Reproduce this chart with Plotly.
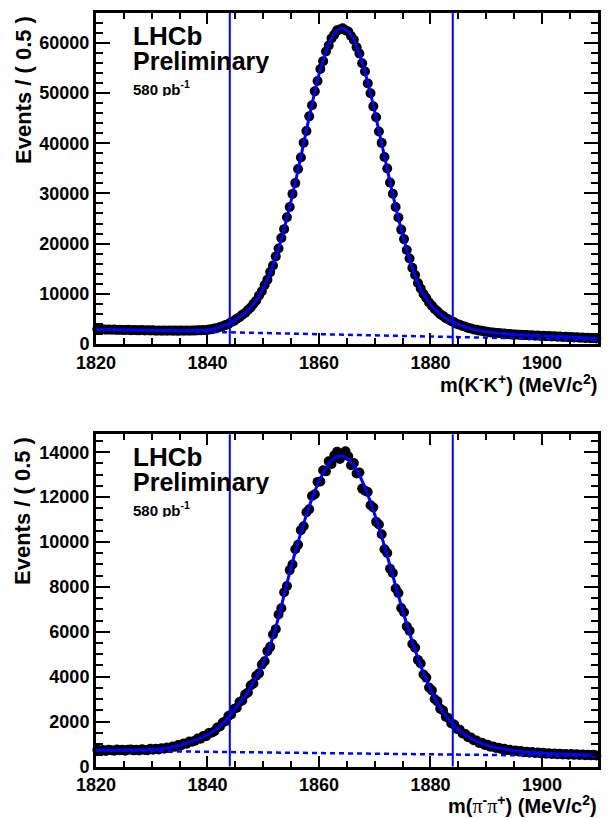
import numpy as np
import plotly.graph_objects as go

# ---------------- binning / ranges ----------------
BIN_LOW = 1820.0
BIN_WIDTH = 0.5
N_BINS = 180
MASS_RANGE = [1820, 1910]
FIT_MASS = list(range(1820, 1911))          # fit curve sampled every 1 MeV
SIGNAL_WINDOW = [1844, 1884]

X_TICKS = [1820, 1840, 1860, 1880, 1900]
KK_Y_TICKS = [0, 10000, 20000, 30000, 40000, 50000, 60000]
PP_Y_TICKS = [0, 2000, 4000, 6000, 8000, 10000, 12000, 14000]
KK_Y_MAX = 66000
PP_Y_MAX = 14800

# ---------------- D0 -> K- K+ ----------------
KK_COUNTS = [
    2960, 2890, 2930, 2860, 2890, 2840, 2870, 2810, 2850, 2790,
    2780, 2820, 2760, 2790, 2740, 2720, 2770, 2700, 2740, 2680,
    2720, 2660, 2700, 2650, 2690, 2640, 2680, 2630, 2670, 2620,
    2680, 2630, 2690, 2650, 2700, 2670, 2740, 2720, 2780, 2760,
    2870, 2930, 3090, 3180, 3400, 3530, 3800, 4000, 4350, 4600,
    5030, 5330, 5820, 6190, 6790, 7270, 8030, 8680, 9650, 10520,
    11750, 12820, 14320, 15650, 17450, 19030, 21100, 22880, 25250, 27280,
    29900, 32050, 34850, 37150, 40080, 42420, 45350, 47570, 50330, 52380,
    54780, 56350, 58260, 59460, 60880, 61640, 62480, 62650, 62900, 62520,
    62260, 61370, 60590, 59120, 57880, 55930, 54290, 51920, 49970, 47340,
    45170, 42340, 40060, 37250, 34950, 32150, 29920, 27290, 25210, 22790,
    20900, 18710, 17040, 15170, 13750, 12160, 11060, 9950, 9150, 8260,
    7640, 6960, 6500, 5950, 5600, 5150, 4890, 4520, 4310, 3990,
    3840, 3570, 3440, 3210, 3110, 2910, 2840, 2670, 2620, 2470,
    2440, 2310, 2300, 2180, 2180, 2080, 2080, 1990, 1990, 1910,
    1910, 1840, 1850, 1770, 1790, 1710, 1730, 1660, 1680, 1610,
    1630, 1560, 1580, 1510, 1530, 1460, 1480, 1410, 1430, 1360,
    1380, 1310, 1330, 1260, 1280, 1210, 1230, 1160, 1180, 1120,
]
KK_FIT = [
    2930, 2905, 2880, 2855, 2830, 2805, 2785, 2765, 2745, 2725,
    2705, 2690, 2675, 2665, 2655, 2650, 2655, 2670, 2700, 2740,
    2800, 3000, 3270, 3650, 4150, 4800, 5550, 6450, 7600, 9100,
    11070, 13500, 16480, 20000, 24000, 28540, 33420, 38600, 43900, 49000,
    53700, 57400, 60300, 62200, 62900, 62500, 61100, 58600, 55200, 51000,
    46300, 41200, 36100, 31000, 26200, 21800, 17800, 14400, 11500, 9500,
    7900, 6700, 5750, 5000, 4400, 3900, 3500, 3150, 2870, 2640,
    2450, 2300, 2180, 2080, 1990, 1910, 1840, 1780, 1720, 1670,
    1620, 1570, 1520, 1470, 1420, 1370, 1320, 1270, 1220, 1170, 1130,
]
KK_BKG_ENDS = [2880, 800]

# ---------------- D0 -> pi- pi+ ----------------
PP_COUNTS = [
    745, 706, 731, 690, 746, 725, 707, 757, 723, 746,
    705, 744, 762, 719, 747, 715, 768, 740, 729, 786,
    750, 793, 762, 815, 790, 846, 820, 890, 880, 955,
    940, 1030, 1010, 1115, 1100, 1150, 1250, 1235, 1355, 1350,
    1490, 1500, 1570, 1740, 1780, 1960, 2020, 2250, 2320, 2560,
    2620, 2870, 2940, 3210, 3300, 3610, 3700, 4040, 4150, 4540,
    4690, 5140, 5330, 5880, 6120, 6770, 7050, 7760, 8040, 8750,
    9000, 9680, 9880, 10530, 10700, 11330, 11460, 12050, 12130, 12680,
    12700, 13200, 13150, 13600, 13480, 13860, 14020, 13700, 13950, 14040,
    13820, 13420, 13520, 13050, 13100, 12380, 12290, 12230, 11640, 11540,
    10900, 10780, 10350, 9680, 9510, 8810, 8620, 7930, 7730, 7060,
    6870, 6240, 6050, 5460, 5290, 4750, 4590, 4100, 3960, 3520,
    3390, 3010, 2900, 2580, 2500, 2220, 2150, 1920, 1870, 1670,
    1640, 1470, 1450, 1300, 1290, 1170, 1160, 1050, 1055, 960,
    965, 885, 895, 825, 840, 775, 790, 730, 750, 696,
    716, 665, 688, 640, 662, 618, 643, 600, 624, 585,
    608, 571, 595, 558, 582, 548, 571, 537, 562, 528,
    553, 519, 544, 511, 536, 503, 528, 496, 521, 488,
]
PP_FIT = [
    720, 722, 724, 726, 728, 731, 734, 738, 743, 750,
    760, 775, 795, 830, 880, 945, 1020, 1100, 1190, 1290,
    1410, 1560, 1740, 1990, 2280, 2580, 2900, 3250, 3650, 4080,
    4600, 5220, 5980, 6900, 7900, 8880, 9780, 10620, 11400, 12100,
    12700, 13190, 13550, 13770, 13820, 13740, 13490, 13100, 12580, 11950,
    11230, 10440, 9600, 8720, 7830, 6960, 6140, 5370, 4660, 4020,
    3450, 2950, 2530, 2180, 1890, 1650, 1450, 1290, 1160, 1050,
    960, 890, 830, 780, 740, 705, 675, 650, 630, 612,
    596, 582, 570, 559, 549, 540, 531, 523, 515, 508, 500,
]
PP_BKG_ENDS = [710, 460]

PANEL_TEXT = ["LHCb", "Preliminary", "580 pb<sup>-1</sup>"]
Y_TITLE = "Events / ( 0.5 )"
KK_X_TITLE = "m(K<sup>-</sup>K<sup>+</sup>) (MeV/c<sup>2</sup>)"
PP_X_TITLE = ("m(<span style='font-family:Liberation Serif;font-weight:normal'>&#960;</span><sup>-</sup>"
              "<span style='font-family:Liberation Serif;font-weight:normal'>&#960;</span><sup>+</sup>) (MeV/c<sup>2</sup>)")

# ---------------- figure ----------------
W, H = 612, 818
BLUE = "#0000ff"
FONT = "Liberation Sans"

centers = BIN_LOW + BIN_WIDTH * (np.arange(N_BINS) + 0.5)

def px_x(p):
    return p / W

def px_y(p):
    return 1 - p / H

fig = go.Figure()

panels = [
    dict(counts=KK_COUNTS, fit=KK_FIT, bkg=KK_BKG_ENDS, xa="x", ya="y"),
    dict(counts=PP_COUNTS, fit=PP_FIT, bkg=PP_BKG_ENDS, xa="x2", ya="y2"),
]
for p in panels:
    fig.add_trace(go.Scatter(x=centers, y=p["counts"], mode="markers",
                             marker=dict(color="black", size=10, line=dict(width=0)),
                             cliponaxis=False, xaxis=p["xa"], yaxis=p["ya"], showlegend=False))
    fig.add_trace(go.Scatter(x=FIT_MASS, y=p["fit"], mode="lines",
                             line=dict(color=BLUE, width=3, shape="spline"),
                             xaxis=p["xa"], yaxis=p["ya"], showlegend=False))
    fig.add_trace(go.Scatter(x=MASS_RANGE, y=p["bkg"], mode="lines",
                             line=dict(color=BLUE, width=2.5, dash="5px,4px"),
                             xaxis=p["xa"], yaxis=p["ya"], showlegend=False))

tickfont = dict(family=FONT, size=18, color="black", weight="bold")

def xaxis_cfg():
    return dict(range=MASS_RANGE, tickmode="array", tickvals=X_TICKS,
                ticktext=[str(v) for v in X_TICKS], automargin=False,
                ticks="inside", ticklen=11, tickwidth=2, tickcolor="black",
                showline=True, linecolor="black", linewidth=3, mirror="ticks",
                showgrid=False, zeroline=False, tickfont=tickfont,
                minor=dict(ticks="inside", ticklen=6, tickwidth=2, tickcolor="black",
                           tickmode="linear", tick0=1820, dtick=5, showgrid=False),
                domain=[px_x(96), px_x(597.7)])

def yaxis_cfg(ticks, ymax, minor_dtick, dom):
    return dict(range=[0, ymax], tickmode="array", tickvals=ticks,
                ticktext=[str(v) for v in ticks], automargin=False,
                ticks="inside", ticklen=14, tickwidth=2, tickcolor="black",
                showline=True, linecolor="black", linewidth=3, mirror="ticks",
                showgrid=False, zeroline=False, tickfont=tickfont,
                minor=dict(ticks="inside", ticklen=7, tickwidth=2, tickcolor="black",
                           tickmode="linear", tick0=0, dtick=minor_dtick, showgrid=False),
                domain=dom)

fig.update_layout(
    width=W, height=H, margin=dict(l=0, r=0, t=0, b=0),
    paper_bgcolor="white", plot_bgcolor="white",
    xaxis=dict(xaxis_cfg(), anchor="y"),
    yaxis=dict(yaxis_cfg(KK_Y_TICKS, KK_Y_MAX, 2000, [px_y(344), px_y(12.7)]), anchor="x"),
    xaxis2=dict(xaxis_cfg(), anchor="y2"),
    yaxis2=dict(yaxis_cfg(PP_Y_TICKS, PP_Y_MAX, 500, [px_y(766.5), px_y(434.3)]), anchor="x2"),
)

shapes = []
for xa, ya in [("x", "y"), ("x2", "y2")]:
    for m in SIGNAL_WINDOW:
        shapes.append(dict(type="line", xref=xa, yref=ya + " domain", x0=m, x1=m, y0=0, y1=1,
                           line=dict(color=BLUE, width=2), layer="above"))
fig.update_layout(shapes=shapes)

ann = []
for off in [0, 421]:
    ann.append(dict(text=PANEL_TEXT[0], x=px_x(131), y=px_y(36 + off), xref="paper", yref="paper",
                    xanchor="left", yanchor="middle", showarrow=False, height=24,
                    font=dict(family=FONT, size=26, color="black", weight="bold")))
    ann.append(dict(text=PANEL_TEXT[1], x=px_x(131), y=px_y(61 + off), xref="paper", yref="paper",
                    xanchor="left", yanchor="middle", showarrow=False, height=24,
                    font=dict(family=FONT, size=25, color="black", weight="bold")))
    ann.append(dict(text=PANEL_TEXT[2], x=px_x(131), y=px_y(88 + off), xref="paper", yref="paper",
                    xanchor="left", yanchor="middle", showarrow=False, height=16,
                    font=dict(family=FONT, size=15, color="black", weight="bold")))
    ann.append(dict(text=Y_TITLE, x=px_x(23), y=px_y(90 + off), xref="paper", yref="paper",
                    xanchor="center", yanchor="middle", textangle=-90, showarrow=False,
                    font=dict(family=FONT, size=22, color="black", weight="bold")))
ann.append(dict(text=KK_X_TITLE, x=px_x(599), y=px_y(384), xref="paper", yref="paper",
                xanchor="right", yanchor="middle", showarrow=False,
                font=dict(family=FONT, size=20, color="black", weight="bold")))
ann.append(dict(text=PP_X_TITLE, x=px_x(599), y=px_y(804), xref="paper", yref="paper",
                xanchor="right", yanchor="middle", showarrow=False,
                font=dict(family=FONT, size=20, color="black", weight="bold")))
fig.update_layout(annotations=ann)

# remove the browser's default 8px page margin so the figure sits at (0, 0)
fig.write_html("out.html", config={"displayModeBar": False},
               post_script="document.body.style.margin='0';document.body.style.padding='0';")
